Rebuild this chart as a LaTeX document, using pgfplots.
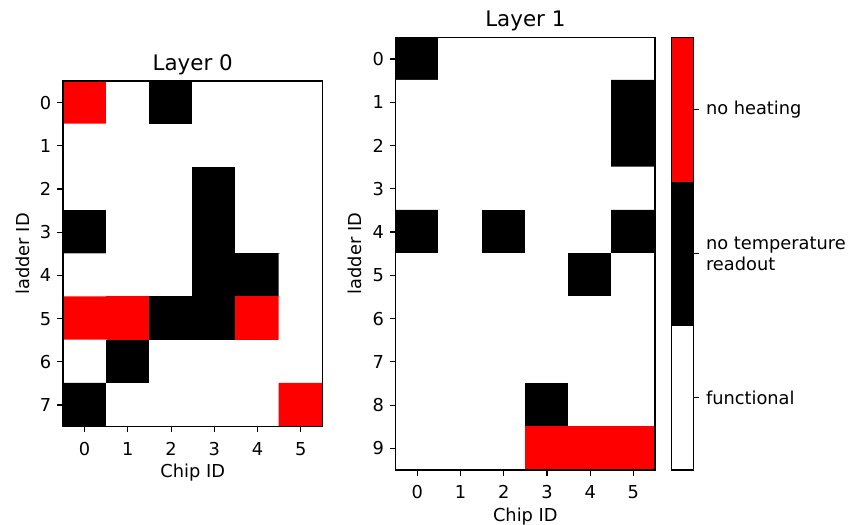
\documentclass[border=0pt]{standalone}
\usepackage{pgfplots}
\pgfplotsset{compat=1.18}
\usepackage{fontspec}
\setmainfont{DejaVu Sans}
\pgfplotstableread{
x y c
0 0 2
1 0 0
2 0 1
3 0 0
4 0 0
5 0 0
0 1 0
1 1 0
2 1 0
3 1 0
4 1 0
5 1 0
0 2 0
1 2 0
2 2 0
3 2 1
4 2 0
5 2 0
0 3 1
1 3 0
2 3 0
3 3 1
4 3 0
5 3 0
0 4 0
1 4 0
2 4 0
3 4 1
4 4 1
5 4 0
0 5 2
1 5 2
2 5 1
3 5 1
4 5 2
5 5 0
0 6 0
1 6 1
2 6 0
3 6 0
4 6 0
5 6 0
0 7 1
1 7 0
2 7 0
3 7 0
4 7 0
5 7 2
}\layerzero
\pgfplotstableread{
x y c
0 0 1
1 0 0
2 0 0
3 0 0
4 0 0
5 0 0
0 1 0
1 1 0
2 1 0
3 1 0
4 1 0
5 1 1
0 2 0
1 2 0
2 2 0
3 2 0
4 2 0
5 2 1
0 3 0
1 3 0
2 3 0
3 3 0
4 3 0
5 3 0
0 4 1
1 4 0
2 4 1
3 4 0
4 4 0
5 4 1
0 5 0
1 5 0
2 5 0
3 5 0
4 5 1
5 5 0
0 6 0
1 6 0
2 6 0
3 6 0
4 6 0
5 6 0
0 7 0
1 7 0
2 7 0
3 7 0
4 7 0
5 7 0
0 8 0
1 8 0
2 8 0
3 8 1
4 8 0
5 8 0
0 9 0
1 9 0
2 9 0
3 9 2
4 9 2
5 9 2
}\layerone
\pgfplotstableread{
x y c
0 0 0
1 0 0
0 1 1
1 1 1
0 2 2
1 2 2
}\cbar
\begin{document}
\begin{tikzpicture}
\pgfplotsset{
  colormap={status}{color=(white) color=(black) color=(red)},
  every axis title shift=0pt,
  base/.style={
    scale only axis, axis on top, enlargelimits=false,
    /pgf/number format/assume math mode=true,
    tick align=outside, major tick length=5.6pt,
    tick style={line width=1.2pt, black},
    line width=1.2pt,
    tick label style={font=\fontsize{17.8}{21.5}\selectfont, inner sep=0pt},
    label style={font=\fontsize{17.8}{21.5}\selectfont},
    title style={font=\fontsize{21.4}{25}\selectfont, anchor=base},
    point meta min=0, point meta max=2,
    colormap name=status,
  },
  chip/.style={
    base,
    y dir=reverse,
    xmin=-0.5, xmax=5.5, xtick={0,...,5},
    xtick pos=left, ytick pos=left,
    xlabel={Chip ID}, ylabel={ladder ID},
    yticklabel style={anchor=east, xshift=-5.6pt},
    xticklabel style={anchor=north, yshift=-9.4pt},
  },
}
\path[use as bounding box] (0,0) rectangle (852pt,525pt);
\begin{axis}[chip,
  at={(63pt,98.3pt)}, anchor=south west,
  width=259.5pt, height=345.7pt,
  ymin=-0.5, ymax=7.5, ytick={0,...,7},
  title={Layer 0},
  title style={at={(axis description cs:0.5,1.0298)}},
  xlabel style={at={(axis description cs:0.5,-0.1476)}, anchor=base},
  ylabel style={at={(axis description cs:-0.1298,0.5)}, anchor=base},
]
\addplot[matrix plot*, mesh/cols=6, point meta=explicit] table[x=x, y=y, meta=c] {\layerzero};
\end{axis}
\begin{axis}[chip,
  at={(395.7pt,55pt)}, anchor=south west,
  width=259.3pt, height=432.7pt,
  ymin=-0.5, ymax=9.5, ytick={0,...,9},
  title={Layer 1},
  title style={at={(axis description cs:0.5,1.024)}},
  xlabel style={at={(axis description cs:0.5,-0.1195)}, anchor=base},
  ylabel style={at={(axis description cs:-0.1311,0.5)}, anchor=base},
]
\addplot[matrix plot*, mesh/cols=6, point meta=explicit] table[x=x, y=y, meta=c] {\layerone};
\end{axis}
\begin{axis}[base,
  at={(671.7pt,55pt)}, anchor=south west,
  width=21.6pt, height=432.7pt,
  xmin=-0.5, xmax=1.5, ymin=-0.5, ymax=2.5,
  xtick=\empty, ytick={0,1,2},
  ytick pos=right, yticklabel pos=right,
  yticklabels={functional, {no temperature\\readout}, no heating},
  yticklabel style={anchor=west, align=left, xshift=6.5pt, font=\fontsize{17.8}{21.5}\selectfont},
]
\addplot[matrix plot*, mesh/cols=2, point meta=explicit] table[x=x, y=y, meta=c] {\cbar};
\end{axis}
\end{tikzpicture}
\end{document}
